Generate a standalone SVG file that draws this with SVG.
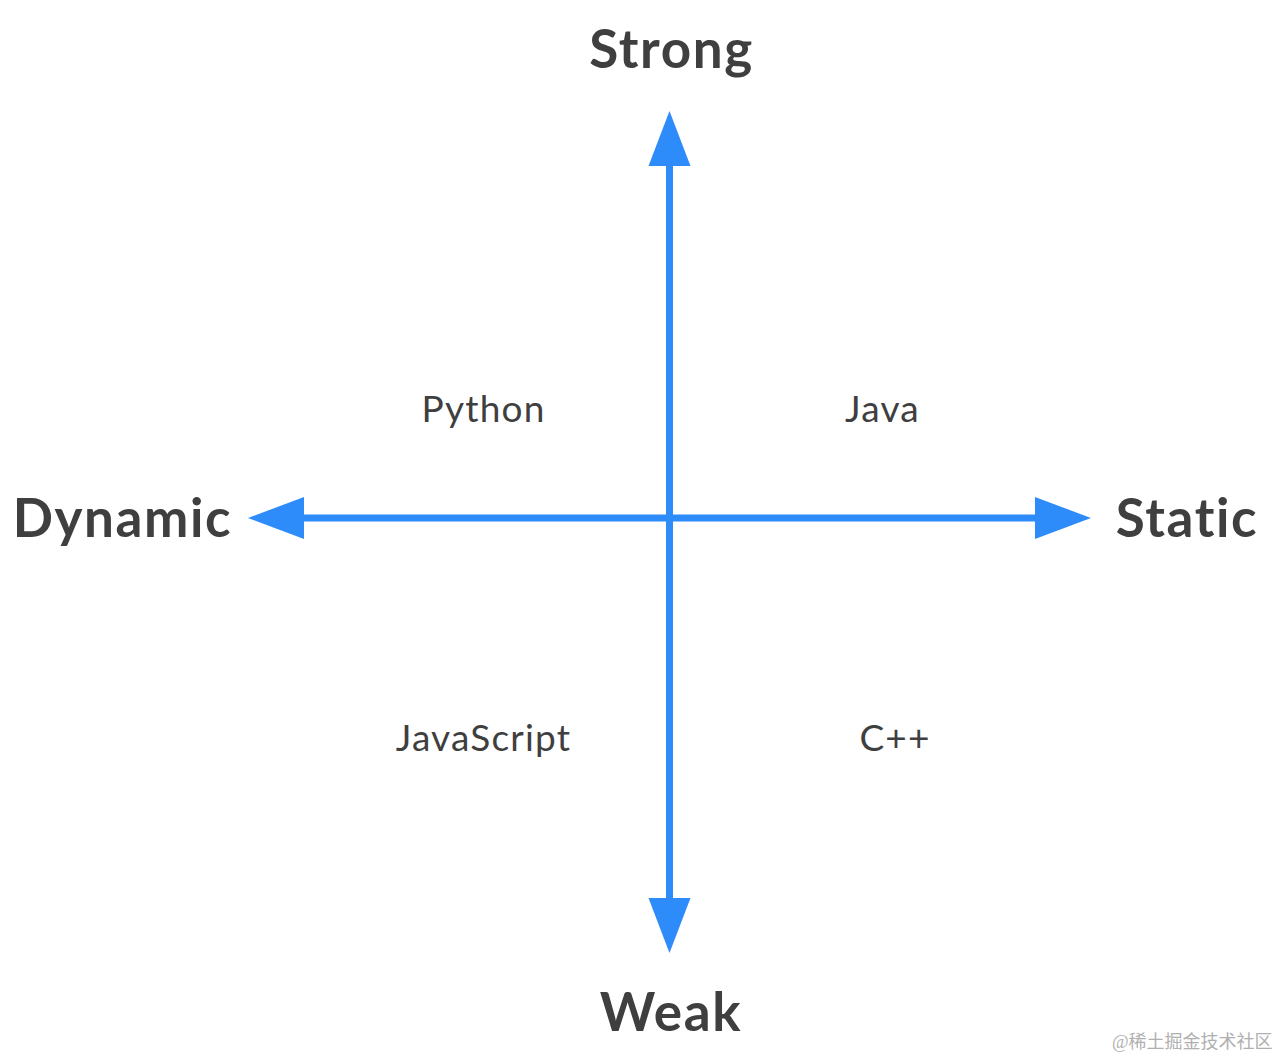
<svg xmlns="http://www.w3.org/2000/svg" width="1279" height="1058" viewBox="0 0 1279 1058">
<style>
.axis{stroke:#2e8bfa;stroke-width:7;fill:none}
.head{fill:#2e8bfa}
.big{font-family:Lato,"Noto Sans",sans-serif;font-weight:bold;font-size:53px;letter-spacing:1.6px;font-variant-ligatures:none;fill:#3f3f3f;text-anchor:middle}
.lang{font-family:Lato,"Noto Sans",sans-serif;font-size:37px;letter-spacing:1.2px;font-variant-ligatures:none;fill:#3f3f3f;text-anchor:middle}
.wm{font-family:"Liberation Serif","Noto Sans CJK SC",serif;font-size:18px;fill:#b0b0b0}
</style>
<rect width="1279" height="1058" fill="#fff"/>
<g id="connectors">
<line class="axis" x1="669.5" y1="160" x2="669.5" y2="904"/>
<line class="axis" x1="298" y1="518" x2="1041" y2="518"/>
<polygon class="head" points="669.5,111 690.5,166 648.5,166"/>
<polygon class="head" points="669.5,953 690.5,898 648.5,898"/>
<polygon class="head" points="1091,518 1035,497 1035,539"/>
<polygon class="head" points="248,518 304,497 304,539"/>
</g>
<g id="strong"><text class="big" x="671.5" y="68">Strong</text></g>
<g id="weak"><text class="big" x="671" y="1031">Weak</text></g>
<g id="dynamic"><text class="big" x="122.5" y="537">Dynamic</text></g>
<g id="static"><text class="big" x="1187" y="537">Static</text></g>
<g id="python"><text class="lang" x="483.5" y="422">Python</text></g>
<g id="java"><text class="lang" x="882.5" y="422">Java</text></g>
<g id="javascript"><text class="lang" x="483.5" y="751">JavaScript</text></g>
<g id="cpp"><text class="lang" x="895" y="751">C++</text></g>
<text class="wm" x="1112" y="1048">@稀土掘金技术社区</text>
</svg>
